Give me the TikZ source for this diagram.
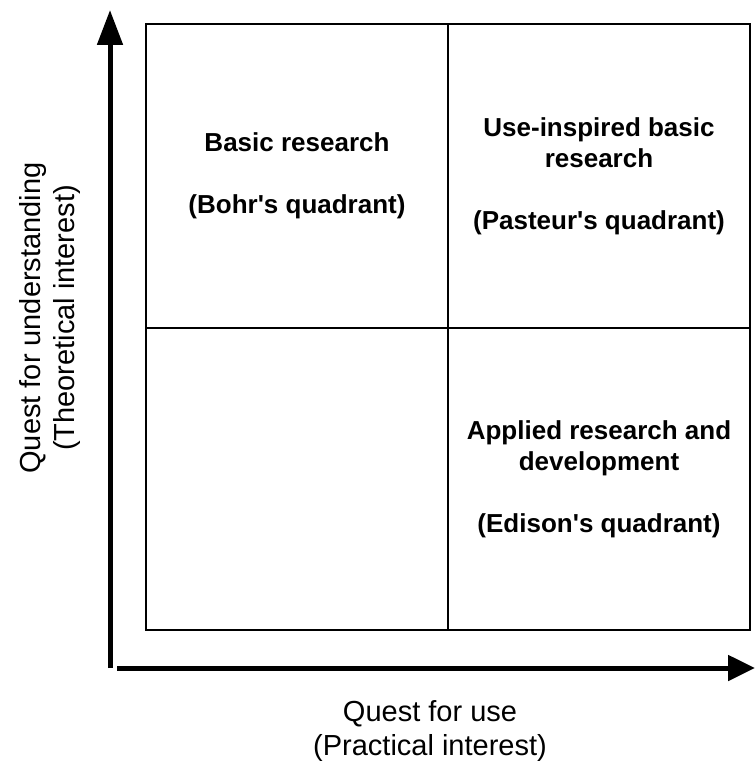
\documentclass[tikz,border=0pt]{standalone}
\usepackage{fontspec}
\setmainfont{Liberation Sans}
\usetikzlibrary{positioning, arrows.meta}

\begin{document}
\begin{tikzpicture}[x=1pt, y=-1pt,
                    every node/.style = {text=black, align=center, font=\fontsize{26}{31}\selectfont\bfseries},
                    axislabel/.style = {font=\fontsize{29}{34}\selectfont},
                    grid/.style = {draw, line width=2pt},
                    axis/.style = {draw, line width=5pt, -{Triangle[length=35pt, width=25pt]}}]
                \useasboundingbox (0,0) rectangle (755,767);
                \coordinate (ul) at (146,24);
                \coordinate (lr) at (750,630);
                \coordinate (t) at (448,24);
                \coordinate (b) at (448,630);
                \coordinate (l) at (146,328);
                \coordinate (r) at (750,328);
                \draw[grid] (ul) rectangle (lr);
                \draw[grid] (t) -- (b);
                \draw[grid] (l) -- (r);
                \node (bohr)    at (297,176) {Basic research\\[31pt](Bohr\textquotesingle s quadrant)};
                \node (pasteur) at (599,176) {Use-inspired basic\\research\\[31pt](Pasteur\textquotesingle s quadrant)};
                \node (edison)  at (599,479) {Applied research and\\development\\[31pt](Edison\textquotesingle s quadrant)};
                \coordinate (oy) at (110,668);
                \coordinate (ty) at (110,10);
                \coordinate (ox) at (117,668);
                \coordinate (tx) at (755,668);
                \draw[axis] (oy) -- (ty);
                \draw[axis, -{Triangle[length=27pt, width=25pt]}] (ox) -- (tx);
                \node (use)   [axislabel] at (430,731) {Quest for use\\(Practical interest)};
                \node (under) [axislabel, rotate=90] at (50,318) {Quest for understanding\\(Theoretical interest)};
            \end{tikzpicture}
\end{document}
